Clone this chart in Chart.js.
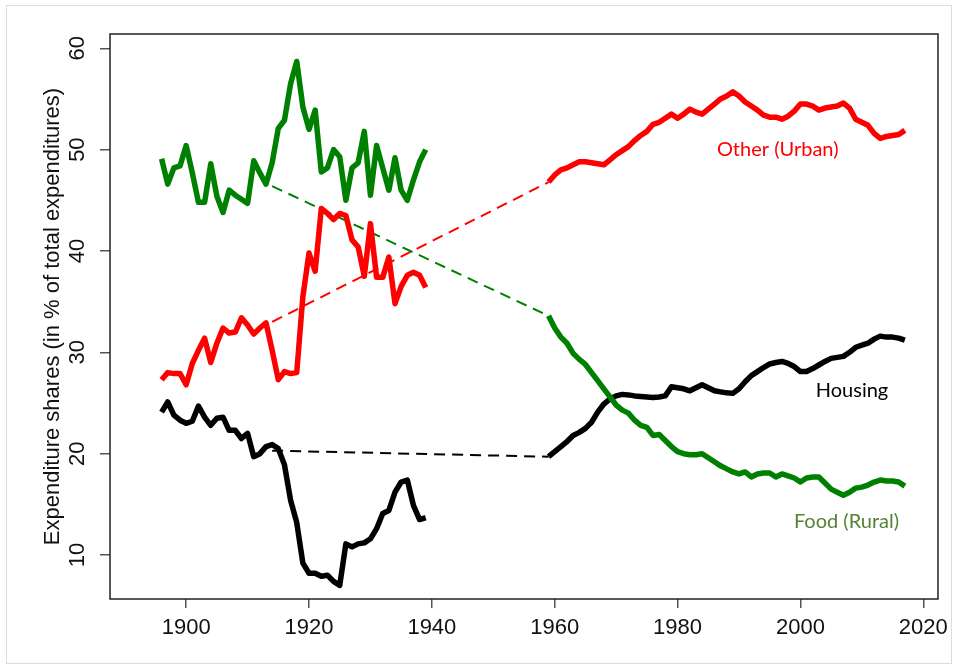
<!DOCTYPE html>
<meta charset="utf-8">
<title>Expenditure shares</title>
<style>
  body { margin: 0; background: #fff; }
</style>
<canvas id="chart" width="958" height="670"></canvas>
<script src="https://cdn.jsdelivr.net/npm/chart.js@4"></script>
<script>
  // years, two periods with a gap between them
  const yearsEarly = Array.from({ length: 44 }, (_, i) => 1896 + i) // 1896..1939
  const yearsLate = Array.from({ length: 59 }, (_, i) => 1959 + i) // 1959..2017

  const foodEarly = [49.1, 46.6, 48.2, 48.4, 50.4, 47.7, 44.8, 44.8, 48.6, 45.4,
    43.8, 46.0, 45.5, 45.1, 44.7, 48.9, 47.7, 46.6, 48.7, 52.1,
    52.9, 56.5, 58.7, 54.2, 52.0, 53.9, 47.8, 48.2, 50.0, 49.3,
    45.0, 48.2, 48.7, 51.8, 45.5, 50.4, 48.2, 46.0, 49.2, 46.0,
    45.0, 47.0, 48.8, 50.0]
  const otherEarly = [27.3, 28.0, 27.9, 27.9, 26.8, 28.9, 30.2, 31.4, 29.0, 30.9,
    32.4, 31.9, 32.0, 33.4, 32.7, 31.8, 32.4, 32.9, 30.2, 27.3,
    28.1, 27.9, 28.0, 35.5, 39.8, 38.0, 44.2, 43.7, 43.1, 43.7,
    43.5, 41.1, 40.4, 37.5, 42.7, 37.4, 37.4, 39.4, 34.8, 36.5,
    37.6, 37.9, 37.6, 36.4]
  const housingEarly = [24.1, 25.1, 23.8, 23.3, 23.0, 23.2, 24.7, 23.6, 22.8, 23.5,
    23.6, 22.3, 22.3, 21.5, 22.0, 19.7, 20.0, 20.7, 20.9, 20.5,
    18.9, 15.4, 13.2, 9.2, 8.2, 8.2, 7.9, 8.0, 7.4, 7.0,
    11.1, 10.8, 11.1, 11.2, 11.6, 12.6, 14.1, 14.4, 16.2, 17.2,
    17.4, 14.9, 13.5, 13.7]

  const foodLate = [33.6, 32.4, 31.5, 30.9, 29.9, 29.3, 28.8, 28.0, 27.2, 26.4,
    25.6, 24.8, 24.3, 24.0, 23.3, 22.8, 22.6, 21.8, 21.9, 21.3,
    20.7, 20.2, 20.0, 19.9, 19.9, 20.0, 19.6, 19.2, 18.8, 18.5,
    18.2, 18.0, 18.2, 17.7, 18.0, 18.1, 18.1, 17.7, 18.0, 17.8,
    17.6, 17.2, 17.6, 17.7, 17.7, 17.1, 16.5, 16.2, 15.9, 16.2,
    16.6, 16.7, 16.9, 17.2, 17.4, 17.3, 17.3, 17.2, 16.8]
  const otherLate = [46.8, 47.5, 48.0, 48.2, 48.5, 48.8, 48.8, 48.7, 48.6, 48.5,
    49.0, 49.5, 49.9, 50.3, 50.9, 51.4, 51.8, 52.5, 52.7, 53.1,
    53.5, 53.1, 53.5, 54.0, 53.7, 53.5, 54.0, 54.5, 55.0, 55.3,
    55.7, 55.3, 54.7, 54.3, 53.9, 53.4, 53.2, 53.2, 53.0, 53.3,
    53.8, 54.5, 54.5, 54.3, 53.9, 54.1, 54.2, 54.3, 54.6, 54.1,
    53.0, 52.7, 52.4, 51.6, 51.1, 51.3, 51.4, 51.5, 51.9]
  const housingLate = [19.7, 20.2, 20.7, 21.2, 21.8, 22.1, 22.5, 23.1, 24.1, 24.9,
    25.4, 25.7, 25.85, 25.8, 25.7, 25.65, 25.6, 25.55, 25.6, 25.7,
    26.6, 26.5, 26.4, 26.2, 26.5, 26.8, 26.5, 26.2, 26.1, 26.0,
    25.95, 26.4, 27.1, 27.7, 28.1, 28.5, 28.85, 29.0, 29.1, 28.9,
    28.6, 28.1, 28.1, 28.4, 28.75, 29.1, 29.4, 29.5, 29.6, 30.0,
    30.5, 30.7, 30.9, 31.3, 31.6, 31.5, 31.5, 31.4, 31.2]

  // dashed bridges across the gap
  const bridgeYears = [1914, 1959]
  const foodBridge = [46.4, 33.6]
  const otherBridge = [33.0, 46.8]
  const housingBridge = [20.3, 19.7]

  const xTicks = [1900, 1920, 1940, 1960, 1980, 2000, 2020]
  const yTicks = [10, 20, 30, 40, 50, 60]

  const seriesLabels = [
    { text: "Other (Urban)", x: 1996.3, y: 50.0, color: "#ff0000" },
    { text: "Housing", x: 2008.4, y: 26.2, color: "#000000" },
    { text: "Food (Rural)", x: 2007.5, y: 13.35, color: "#548235" },
  ]

  const GREEN = "#008000", RED = "#ff0000", BLACK = "#000000"
  const pts = (xs, ys) => xs.map((x, i) => ({ x, y: ys[i] }))
  const solid = (data, color) => ({
    data, borderColor: color, borderWidth: 5.5, pointRadius: 0,
    borderJoinStyle: "round", borderCapStyle: "butt", tension: 0,
  })
  const dashed = (data, color) => ({
    data, borderColor: color, borderWidth: 2, borderDash: [11, 7], pointRadius: 0,
  })

  const tickFont = { family: "'Liberation Sans', Arial, sans-serif", size: 22 }

  const extras = {
    id: "extras",
    beforeDraw(c) {
      const ctx = c.ctx
      ctx.save()
      ctx.fillStyle = "#fff"
      ctx.fillRect(0, 0, c.width, c.height)
      ctx.strokeStyle = "#dcdcdc"
      ctx.lineWidth = 1
      ctx.strokeRect(6.5, 5.5, 945, 658)
      ctx.restore()
    },
    afterDraw(c) {
      const ctx = c.ctx, a = c.chartArea, y = c.scales.y, x = c.scales.x
      ctx.save()
      ctx.strokeStyle = "#222"
      ctx.lineWidth = 1.5
      ctx.strokeRect(a.left, a.top, a.right - a.left, a.bottom - a.top)
      // rotated y tick labels
      ctx.font = "22px 'Liberation Sans', Arial, sans-serif"
      ctx.fillStyle = "#111"
      ctx.textAlign = "center"
      ctx.textBaseline = "middle"
      for (const v of yTicks) {
        ctx.save()
        ctx.translate(78, y.getPixelForValue(v))
        ctx.rotate(-Math.PI / 2)
        ctx.fillText(String(v), 0, 0)
        ctx.restore()
      }
      ctx.font = "20px Lato, 'Open Sans', sans-serif"
      for (const l of seriesLabels) {
        ctx.fillStyle = l.color
        ctx.fillText(l.text, x.getPixelForValue(l.x), y.getPixelForValue(l.y))
      }
      ctx.restore()
    },
  }

  new Chart(document.getElementById("chart"), {
    type: "line",
    data: {
      datasets: [
        solid(pts(yearsEarly, foodEarly), GREEN),
        solid(pts(yearsEarly, otherEarly), RED),
        solid(pts(yearsEarly, housingEarly), BLACK),
        solid(pts(yearsLate, foodLate), GREEN),
        solid(pts(yearsLate, otherLate), RED),
        solid(pts(yearsLate, housingLate), BLACK),
        dashed(pts(bridgeYears, foodBridge), GREEN),
        dashed(pts(bridgeYears, otherBridge), RED),
        dashed(pts(bridgeYears, housingBridge), BLACK),
      ],
    },
    options: {
      responsive: false,
      animation: false,
      layout: { padding: { top: 34, right: 20, left: 0, bottom: 0 } },
      plugins: { legend: { display: false }, tooltip: { enabled: false } },
      scales: {
        x: {
          type: "linear",
          min: 1887.6,
          max: 2022.4,
          afterBuildTicks: s => { s.ticks = xTicks.map(value => ({ value })) },
          afterFit: s => { s.height = 71 },
          border: { display: false },
          grid: { drawOnChartArea: false, drawTicks: true, tickLength: 9, color: "#555", lineWidth: 1.5 },
          ticks: { font: tickFont, color: "#111", padding: 7, maxRotation: 0, callback: v => String(v) },
        },
        y: {
          min: 5.66,
          max: 61.41,
          afterBuildTicks: s => { s.ticks = yTicks.map(value => ({ value })) },
          afterFit: s => { s.width = 110 },
          border: { display: false },
          grid: { drawOnChartArea: false, drawTicks: true, tickLength: 10, color: "#555", lineWidth: 1.5 },
          ticks: { color: "rgba(0,0,0,0)", font: tickFont },
          title: {
            display: true,
            text: "Expenditure shares (in % of total expenditures)",
            font: { family: "'Liberation Sans', Arial, sans-serif", size: 22 },
            color: "#111",
            padding: { top: 40, bottom: 0 },
          },
        },
      },
    },
    plugins: [extras],
  })
</script>
